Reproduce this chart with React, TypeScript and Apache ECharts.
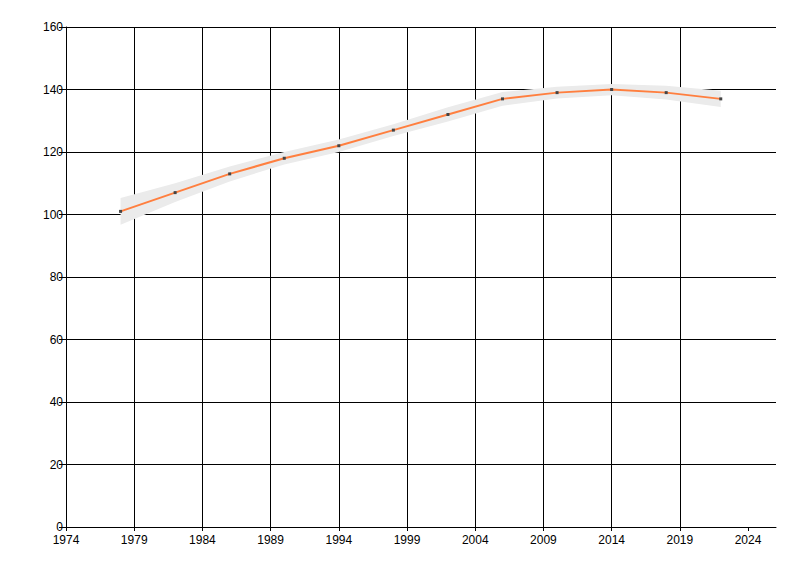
import React, { useEffect, useRef } from "react";
import * as echarts from "echarts";

const BASE_YEAR = 1974;
const years = [1978, 1982, 1986, 1990, 1994, 1998, 2002, 2006, 2010, 2014, 2018, 2022];
const values = [101, 107, 113, 118, 122, 127, 132, 137, 139, 140, 139, 137];
const lower = [96.7, 104, 110.6, 116, 120, 125.1, 129.8, 134.8, 137.1, 138.2, 136.8, 134.4];
const upper = [105.3, 110, 115.4, 120, 124, 128.9, 134.3, 139.2, 140.9, 141.8, 141.2, 139.6];
const xTickOffsets = [0, 5, 10, 15, 20, 25, 30, 35, 40, 45, 50];

export default function App() {
  const ref = useRef<HTMLDivElement>(null);
  useEffect(() => {
    if (!ref.current) return;
    const chart = echarts.init(ref.current, null, { renderer: "svg" });
    const font = { fontFamily: "Liberation Sans", fontSize: 12, color: "#000" };
    const bandData = years.map((y, i) => [y - BASE_YEAR, lower[i], upper[i]]);
    chart.setOption({
      animation: false,
      backgroundColor: "#fff",
      grid: { left: 58, top: 19, right: 16, bottom: 41, containLabel: false },
      xAxis: {
        type: "value",
        min: 0,
        max: 52.05,
        interval: 5,
        axisLine: { show: true, lineStyle: { color: "#000", width: 1 } },
        axisTick: { show: true, length: 4, lineStyle: { color: "#000" }, customValues: xTickOffsets },
        axisLabel: {
          ...font,
          margin: 7,
          customValues: xTickOffsets,
          formatter: (v: number) => String(Math.round(v + BASE_YEAR)),
        },
        splitLine: { show: true, showMaxLine: false, lineStyle: { color: "#000", width: 1 } },
      },
      yAxis: {
        type: "value",
        min: 0,
        max: 160,
        interval: 20,
        axisLine: { show: true, lineStyle: { color: "#000", width: 1 } },
        axisTick: { show: true, length: 7, lineStyle: { color: "#000" } },
        axisLabel: { ...font, margin: 3 },
        splitLine: { show: true, lineStyle: { color: "#000", width: 1 } },
      },
      series: [
        {
          type: "custom",
          silent: true,
          data: bandData,
          encode: { x: 0, y: [1, 2] },
          renderItem: (params: any, api: any) => {
            if (params.dataIndex !== 0) return null;
            const top = bandData.map((d) => api.coord([d[0], d[2]]));
            const bottom = bandData.map((d) => api.coord([d[0], d[1]])).reverse();
            return {
              type: "polygon",
              shape: { points: top.concat(bottom) },
              style: { fill: "#ebebeb" },
            };
          },
          z: 3,
        },
        {
          type: "line",
          data: years.map((y, i) => [y - BASE_YEAR, values[i]]),
          symbol: "rect",
          symbolSize: 3,
          itemStyle: { color: "#444" },
          lineStyle: { color: "#ff7f3f", width: 2 },
          z: 5,
        },
      ],
    });
    return () => chart.dispose();
  }, []);
  return <div ref={ref} style={{ width: 784, height: 560 }} />;
}
